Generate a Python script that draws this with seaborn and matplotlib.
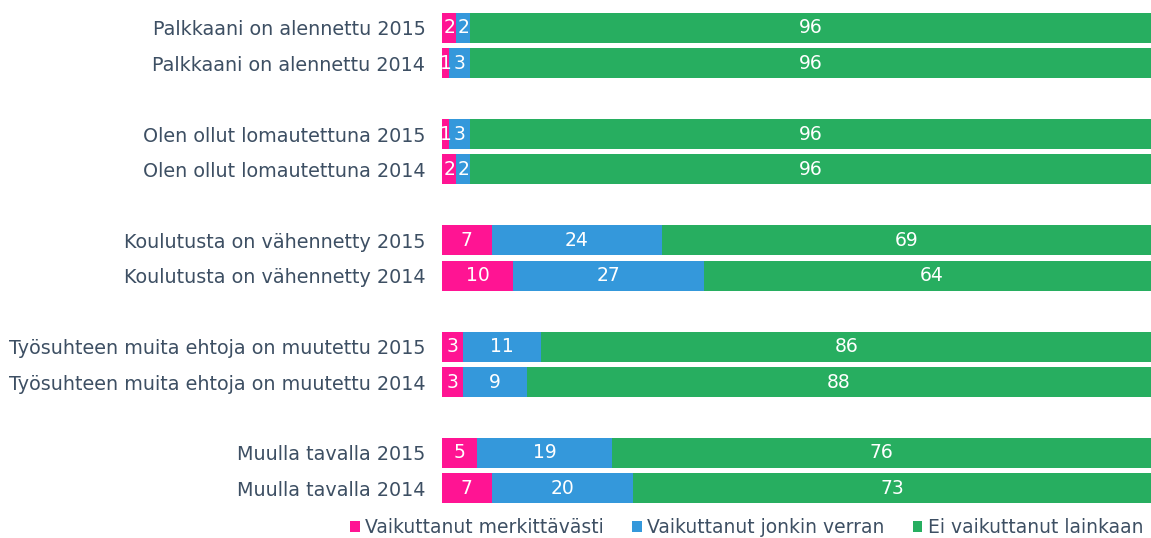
import numpy as np
import pandas as pd
import matplotlib
matplotlib.use("Agg")
import matplotlib.pyplot as plt
import seaborn as sns
from matplotlib.patches import Patch

# rivit ylhäältä alas
labels = ["Palkkaani on alennettu 2015", "Palkkaani on alennettu 2014",
          "Olen ollut lomautettuna 2015", "Olen ollut lomautettuna 2014",
          "Koulutusta on vähennetty 2015", "Koulutusta on vähennetty 2014",
          "Työsuhteen muita ehtoja on muutettu 2015", "Työsuhteen muita ehtoja on muutettu 2014",
          "Muulla tavalla 2015", "Muulla tavalla 2014"]
merkittavasti = [2, 1, 1, 2, 7, 10, 3, 3, 5, 7]
jonkin_verran = [2, 3, 3, 2, 24, 27, 11, 9, 19, 20]
ei_lainkaan = [96, 96, 96, 96, 69, 64, 86, 88, 76, 73]
series_names = ["Vaikuttanut merkittävästi", "Vaikuttanut jonkin verran", "Ei vaikuttanut lainkaan"]

colors = ["#FF1493", "#3498DB", "#27AE60"]
text_col = "#3D4F63"

# ryhmien väliin tyhjä rivi
pos = np.array([0, 1, 3, 4, 6, 7, 9, 10, 12, 13], dtype=float)

df = pd.DataFrame({"pos": pos, "a": merkittavasti, "b": jonkin_verran, "c": ei_lainkaan})
df["ab"] = df["a"] + df["b"]
df["abc"] = df["ab"] + df["c"]

sns.set_style("white")
plt.rcParams["font.family"] = ["DejaVu Sans"]

fig = plt.figure(figsize=(11.51, 5.38), dpi=100)
ax = fig.add_axes([442 / 1151, 1 - 506 / 538, 1 - 442 / 1151, 496 / 538])

for col, c in zip(["abc", "ab", "a"], colors[::-1]):
    sns.barplot(data=df, x=col, y="pos", orient="h", native_scale=True,
                color=c, width=0.85, saturation=1, ax=ax, edgecolor="none")

for i, p in enumerate(pos):
    left = 0
    for v in (merkittavasti[i], jonkin_verran[i], ei_lainkaan[i]):
        ax.text(left + v / 2, p, str(v), ha="center", va="center",
                color="white", fontsize=13.5)
        left += v

ax.set_xlim(0, 100)
ax.set_ylim(13.5, -0.5)
ax.set_yticks(pos)
ax.set_yticklabels(labels, fontsize=13.8, color=text_col)
ax.set_xticks([])
ax.set_xlabel("")
ax.set_ylabel("")
ax.tick_params(axis="y", length=0, pad=12)
sns.despine(ax=ax, left=True, bottom=True)

handles = [Patch(facecolor=c, edgecolor="none") for c in colors]
leg = fig.legend(handles, series_names, loc="lower right", ncol=3,
                 bbox_to_anchor=(1.008, -0.03), frameon=False, fontsize=13.5,
                 handlelength=0.5, handleheight=0.5, handletextpad=0.3,
                 columnspacing=1.5)
for t in leg.get_texts():
    t.set_color(text_col)

fig.savefig("out.png", dpi=100)
